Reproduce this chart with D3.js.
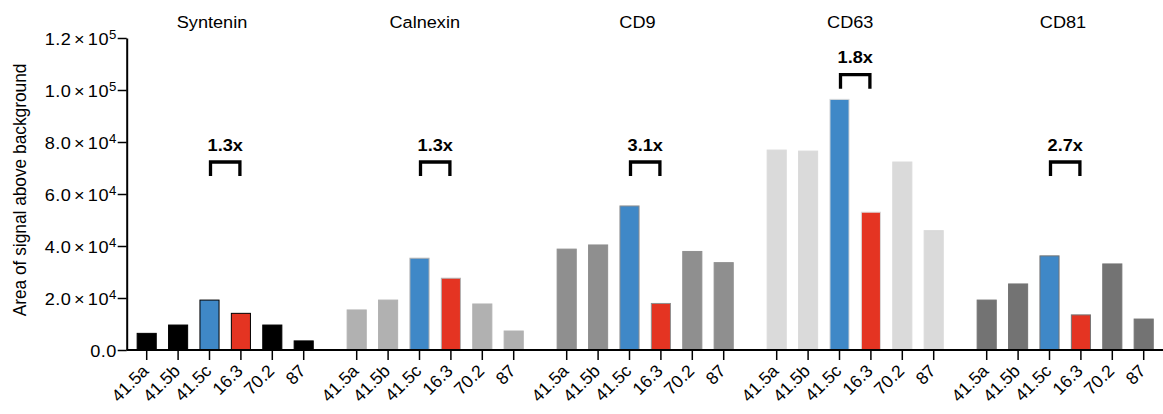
<!DOCTYPE html>
<html>
<head>
<meta charset="utf-8">
<script src="https://cdn.jsdelivr.net/npm/d3@7"></script>
<style>
  html, body { margin: 0; padding: 0; background: #fff; }
  svg { display: block; font-family: "Liberation Sans", Arial, Helvetica, sans-serif; }
</style>
</head>
<body>
<svg id="chart" width="1163" height="414"></svg>
<script>
// ---- data ----
const groups = ["Syntenin", "Calnexin", "CD9", "CD63", "CD81"];
const samples = ["41.5a", "41.5b", "41.5c", "16.3", "70.2", "87"];
const synteninValues = [6400, 9600, 19200, 14100, 9600, 3500];
const calnexinValues = [15400, 19200, 35300, 27600, 17700, 7300];
const cd9Values = [38800, 40400, 55400, 17900, 37900, 33600];
const cd63Values = [76900, 76500, 96400, 53000, 72300, 45900];
const cd81Values = [19200, 25400, 36200, 13500, 33100, 11900];
const foldLabels = ["1.3x", "1.3x", "3.1x", "1.8x", "2.7x"];
const bracketLevels = [72300, 72300, 72300, 105900, 72300];
const yTicks = [0, 20000, 40000, 60000, 80000, 100000, 120000];
const yTitle = "Area of signal above background";

const seriesValues = [synteninValues, calnexinValues, cd9Values, cd63Values, cd81Values];
const groupColors = ["#000000", "#b1b1b1", "#8f8f8f", "#dadada", "#737373"];
const highlight = { "41.5c": "#3f88c7", "16.3": "#e43422" };

// ---- layout ----
const W = 1163, H = 414;
const SX = 1.1; // horizontal stretch of the text, as in the reference
const FS = 16.5;
const svg = d3.select("#chart");
const baseY = 350, topY = 38, axisX = 126.7;
const groupStep = 210, innerStep = 31.4;
const x0 = 131;

const y = d3.scaleLinear().domain([0, 120000]).range([baseY, topY]);
const xGroup = d3.scaleBand().domain(groups).range([x0, x0 + groupStep * groups.length]).padding(0);
const xInner = d3.scaleBand().domain(samples).range([0, innerStep * samples.length])
  .paddingInner(0.36).paddingOuter(0.18);
const xTitle = d3.scalePoint().domain(groups).range([212, 1063]);

const data = [];
groups.forEach((g, gi) => {
  samples.forEach((s, si) => {
    data.push({ group: g, gi, sample: s, value: seriesValues[gi][si] });
  });
});

const cx = d => xGroup(d.group) + xInner(d.sample) + xInner.bandwidth() / 2;

// bars
svg.append("g").selectAll("rect").data(data).join("rect")
  .attr("x", d => xGroup(d.group) + xInner(d.sample) + 0.5)
  .attr("y", d => y(d.value))
  .attr("width", xInner.bandwidth() - 1)
  .attr("height", d => baseY - y(d.value))
  .attr("fill", d => highlight[d.sample] || groupColors[d.gi])
  .attr("stroke", d => groupColors[d.gi])
  .attr("stroke-width", 1);

// x axis baseline
svg.append("line")
  .attr("x1", axisX).attr("x2", W)
  .attr("y1", baseY).attr("y2", baseY)
  .attr("stroke", "#000").attr("stroke-width", 2);

// x ticks + labels
const xt = svg.append("g").selectAll("g").data(data).join("g")
  .attr("transform", d => `translate(${cx(d)},0)`);
xt.append("line")
  .attr("y1", baseY).attr("y2", baseY + 10)
  .attr("stroke", "#000").attr("stroke-width", 1.5);
xt.append("text")
  .attr("transform", `translate(3,372) rotate(-45)`)
  .attr("text-anchor", "end")
  .attr("font-size", 17.5)
  .attr("fill", "#000")
  .text(d => d.sample);

// y axis
const yAxis = d3.axisLeft(y).tickValues(yTicks).tickSize(9).tickSizeOuter(0).tickFormat(() => "");
const yg = svg.append("g").attr("transform", `translate(${axisX},0)`).call(yAxis);
yg.select(".domain").attr("stroke-width", 2);
yg.selectAll(".tick line").attr("stroke-width", 1.5);
yg.selectAll(".tick text").remove();
yg.selectAll(".tick").each(function(v) {
  const t = d3.select(this).append("text")
    .attr("transform", `translate(-10,0) scale(${SX},1)`)
    .attr("text-anchor", "end")
    .attr("font-size", FS)
    .attr("font-family", "Liberation Sans, Arial, sans-serif")
    .attr("letter-spacing", 0.4)
    .attr("fill", "#000")
    .attr("dy", "0.40em");
  if (v === 0) { t.text("0.0"); return; }
  const exp = Math.floor(Math.log10(v));
  const mant = (v / Math.pow(10, exp)).toFixed(1);
  t.append("tspan").text(mant);
  t.append("tspan").attr("dx", 2.5).text("×");
  t.append("tspan").attr("dx", 2.5).text("10");
  t.append("tspan").attr("font-size", 12).attr("dy", "-0.48em").text(exp);
});

// y title
svg.append("text")
  .attr("transform", `translate(26,190) scale(${SX},1) rotate(-90)`)
  .attr("text-anchor", "middle")
  .attr("font-size", 17.3)
  .attr("fill", "#000")
  .text(yTitle);

// group titles
svg.append("g").selectAll("text").data(groups).join("text")
  .attr("transform", g => `translate(${xTitle(g)},27.5) scale(${SX},1)`)
  .attr("text-anchor", "middle")
  .attr("font-size", FS)
  .attr("fill", "#000")
  .text(g => g);

// brackets
const br = svg.append("g").selectAll("g").data(groups).join("g");
br.append("path")
  .attr("d", (g, i) => {
    const xa = xGroup(g) + xInner("41.5c") + xInner.bandwidth() / 2 + 1;
    const xb = xGroup(g) + xInner("16.3") + xInner.bandwidth() / 2 - 1;
    const yt = y(bracketLevels[i]);
    return `M${xa},${yt + 14}V${yt}H${xb}V${yt + 14}`;
  })
  .attr("fill", "none").attr("stroke", "#000").attr("stroke-width", 3.3);
br.append("text")
  .attr("transform", (g, i) => {
    const xm = xGroup(g) + (xInner("41.5c") + xInner("16.3")) / 2 + xInner.bandwidth() / 2;
    return `translate(${xm},${y(bracketLevels[i]) - 11.5}) scale(${SX},1)`;
  })
  .attr("text-anchor", "middle")
  .attr("font-size", FS)
  .attr("font-weight", "bold")
  .attr("fill", "#000")
  .text((g, i) => foldLabels[i]);
</script>
</body>
</html>
